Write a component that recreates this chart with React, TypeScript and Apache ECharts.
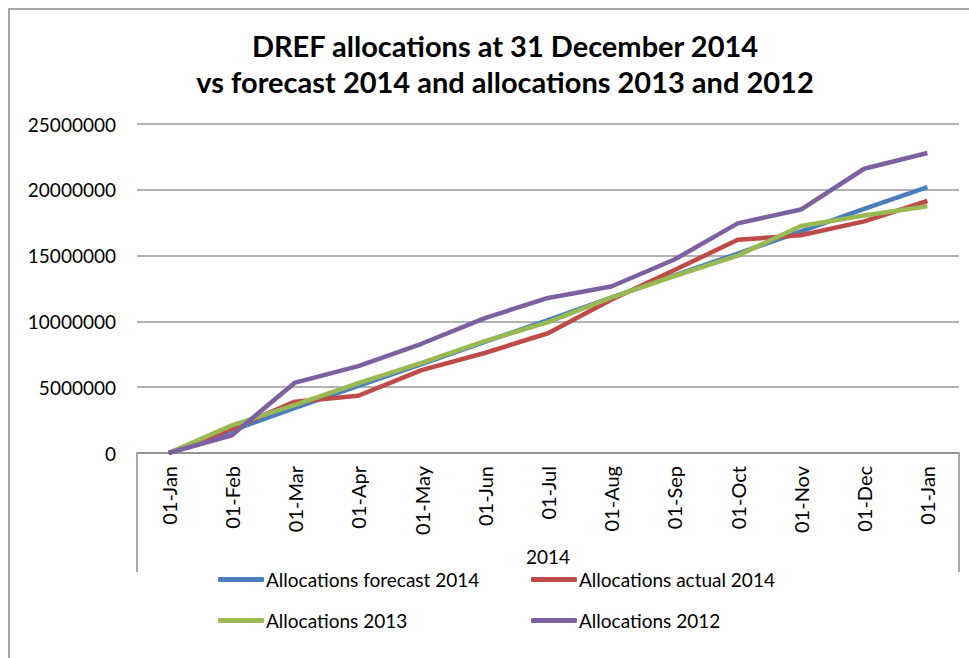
import React, { useEffect, useRef } from "react";
import * as echarts from "echarts";

const categories = [
  "01-Jan", "01-Feb", "01-Mar", "01-Apr", "01-May", "01-Jun", "01-Jul",
  "01-Aug", "01-Sep", "01-Oct", "01-Nov", "01-Dec", "01-Jan",
];

const forecast2014 = [0, 1700000, 3420000, 5100000, 6750000, 8450000, 10100000, 11800000, 13500000, 15150000, 16850000, 18550000, 20200000];
const actual2014 = [0, 1850000, 3900000, 4350000, 6300000, 7600000, 9100000, 11650000, 13900000, 16200000, 16550000, 17600000, 19150000];
const alloc2013 = [0, 2100000, 3650000, 5300000, 6850000, 8500000, 9950000, 11800000, 13450000, 15000000, 17250000, 18050000, 18750000];
const alloc2012 = [0, 1350000, 5350000, 6600000, 8300000, 10250000, 11780000, 12650000, 14700000, 17450000, 18500000, 21600000, 22800000];

const seriesNames = [
  "Allocations forecast 2014",
  "Allocations actual 2014",
  "Allocations 2013",
  "Allocations 2012",
];
const colors = ["#4A7EBB", "#BE4B48", "#98B954", "#7D60A0"];

const titleLines = [
  "DREF allocations at 31 December 2014",
  "vs forecast 2014 and allocations 2013 and 2012",
];
const xAxisName = "2014";

const FONT = "Lato, 'Open Sans', sans-serif";

export default function App() {
  const ref = useRef<HTMLDivElement>(null);

  useEffect(() => {
    if (!ref.current) return;
    const chart = echarts.init(ref.current, undefined, { renderer: "svg" });
    const data = [forecast2014, actual2014, alloc2013, alloc2012];
    const legendPos = [
      { left: 213, top: 565 },
      { left: 526, top: 565 },
      { left: 213, top: 606 },
      { left: 526, top: 606 },
    ];
    chart.setOption({
      animation: false,
      backgroundColor: "#ffffff",
      color: colors,
      textStyle: { fontFamily: FONT },
      title: {
        text: titleLines.join("\n"),
        left: 500,
        textAlign: "center",
        top: 22,
        textStyle: {
          fontFamily: FONT,
          fontWeight: "bold",
          fontSize: 29,
          lineHeight: 36,
          color: "#000",
        },
      },
      legend: seriesNames.map((n, i) => ({
        data: [n],
        left: legendPos[i].left,
        top: legendPos[i].top,
        icon: "roundRect",
        itemWidth: 46,
        itemHeight: 5,
        itemGap: 0,
        textStyle: { fontFamily: FONT, fontSize: 19, color: "#000", padding: [0, 0, 0, -3] },
      })),
      grid: { left: 137, right: 10, top: 124, bottom: 205, containLabel: false },
      xAxis: {
        type: "category",
        data: categories,
        boundaryGap: true,
        name: xAxisName,
        nameLocation: "middle",
        nameGap: 94,
        nameTextStyle: { fontFamily: FONT, fontSize: 19, color: "#000" },
        axisLine: { show: true, lineStyle: { color: "#8c8c8c", width: 1.5 } },
        axisTick: { show: false },
        axisLabel: {
          rotate: 90,
          margin: 13,
          interval: 0,
          fontFamily: FONT,
          fontSize: 20,
          color: "#000",
        },
      },
      yAxis: {
        type: "value",
        min: 0,
        max: 25000000,
        interval: 5000000,
        axisLine: { show: false },
        axisTick: { show: false },
        splitLine: { lineStyle: { color: "#999", width: 1.5 } },
        axisLabel: {
          margin: 21,
          fontFamily: FONT,
          fontSize: 19,
          color: "#000",
          formatter: (v: number) => String(v),
        },
      },
      graphic: [
        {
          type: "rect",
          shape: { x: 9, y: 9, width: 1000, height: 700 },
          style: { fill: "none", stroke: "#8c8c8c", lineWidth: 1.5 },
          silent: true,
        },
        {
          type: "line",
          shape: { x1: 137, y1: 453, x2: 137, y2: 572 },
          style: { stroke: "#8c8c8c", lineWidth: 1.5 },
          silent: true,
        },
        {
          type: "line",
          shape: { x1: 959, y1: 453, x2: 959, y2: 572 },
          style: { stroke: "#8c8c8c", lineWidth: 1.5 },
          silent: true,
        },
      ],
      series: seriesNames.map((n, i) => ({
        name: n,
        type: "line",
        data: data[i],
        symbol: "none",
        lineStyle: { width: 4.5, color: colors[i] },
        itemStyle: { color: colors[i] },
      })),
    });
    return () => chart.dispose();
  }, []);

  return (
    <div
      ref={ref}
      style={{ position: "absolute", left: 0, top: 0, width: 969, height: 658 }}
    />
  );
}
